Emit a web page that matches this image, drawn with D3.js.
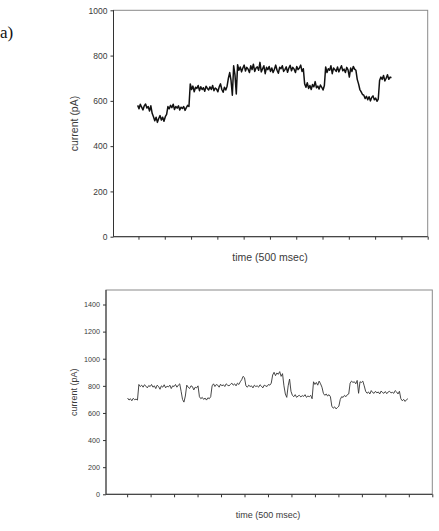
<!DOCTYPE html>
<html>
<head>
<meta charset="utf-8">
<script src="https://cdn.jsdelivr.net/npm/d3@7"></script>
<style>
  body { margin: 0; background: #fff; }
  svg { display: block; }
  .tick text { font-family: "Liberation Sans", Arial, sans-serif; fill: #3a3a3a; }
  .axis-title { font-family: "Liberation Sans", Arial, sans-serif; fill: #3a3a3a; }
</style>
</head>
<body>
<svg id="chart" width="439" height="531"></svg>
<script>
// top trace, one sample every 0.05 tick units from t = 0.97
var topCurrent = [
  580, 565, 585, 572, 560, 578, 586, 568, 575, 555, 578,
  545, 530, 512, 528, 505, 522, 535, 515, 528, 510, 530, 540,
  575, 565, 580, 570, 585, 562, 575, 568, 578, 560, 572, 566, 575, 558, 570, 580, 575,
  675, 650, 665, 640, 660, 655, 668, 645, 662, 650, 658, 642, 665, 655, 648, 662, 650, 668, 645, 657,
  652, 640, 662, 675, 650, 638, 660, 648, 665,
  700, 725, 690, 625, 755, 715, 630,
  760, 735, 750, 728, 745, 758, 732, 748, 740, 725, 755, 738, 762, 730, 745, 750, 735, 770, 728, 742,
  755, 720, 748, 738, 752, 730, 745, 725, 740, 758, 735, 722, 748, 742, 755, 730, 738, 750, 726, 745,
  757, 733, 748, 740, 725, 752, 738, 745, 758, 730, 742,
  675, 660, 680, 655, 668, 650, 672, 662, 685, 658, 665, 652, 670, 660, 648, 668,
  750, 725, 742, 735, 755, 720, 745, 738, 730, 750, 728, 742, 755, 733, 740, 725, 748, 737, 705, 745,
  730, 752, 740, 735,
  695, 675, 650, 640, 628,
  625, 610, 620, 605, 618, 600, 615, 622, 605, 612, 598, 608,
  690, 705, 695, 712, 688, 700, 715, 695, 705, 702
];
var topStart = 0.97, topStep = 0.05;

// bottom trace, one sample every 0.06 tick units from t = 1.02
var bottomCurrent = [
  710, 695, 705, 690, 708, 698, 702, 695,
  810, 795, 805, 790, 808, 798, 785, 802, 795, 810, 790, 800, 780, 805, 795, 775, 800, 790, 808, 785,
  798, 792, 805, 780, 800, 795, 810, 790, 805, 815,
  760, 700, 680, 725,
  805, 790, 780, 800, 795, 770, 790, 785, 800,
  720, 705, 715, 700, 710, 695, 712, 705, 720,
  800, 815, 795, 810, 805, 790, 812, 800, 808, 795, 815, 805, 800, 810, 820,
  805, 815, 800, 820, 810, 830, 845, 870, 860,
  800, 790, 805, 795, 800, 785, 805, 795, 800, 790, 808, 798, 785, 805, 800, 795, 810, 805, 820,
  880, 900, 875, 895, 885, 905, 870, 890,
  800, 740, 715,
  800, 850, 760,
  730, 720, 735, 715, 725, 730, 718, 728, 722, 735, 715, 725, 720, 730, 705,
  830, 810, 825, 805, 835, 815, 790,
  745, 730, 740, 725, 735, 720,
  650, 635, 645, 630, 640, 650,
  700, 720, 715, 730, 720, 735, 740,
  820, 835, 825, 830, 815, 840, 745, 830, 825, 835, 800,
  760, 745, 755, 740, 765, 750, 745, 760, 748, 755, 740, 762, 750, 745, 758, 742, 755, 760, 748, 752,
  745, 765, 755, 740, 760,
  705, 690, 700, 685, 698, 705
];
var bottomStart = 1.02, bottomStep = 0.06;

var topYTicks = [0, 200, 400, 600, 800, 1000];
var bottomYTicks = [0, 200, 400, 600, 800, 1000, 1200, 1400];
var topXTicks = [1, 2, 3, 4, 5, 6, 7, 8, 9, 10, 11, 12];
var bottomXTicks = [1, 2, 3, 4, 5, 6, 7, 8, 9, 10, 11, 12, 13, 14];
var yTitle = "current (pA)";
var xTitle = "time (500 msec)";

var svg = d3.select("#chart");

svg.append("text")
  .attr("x", 0)
  .attr("y", 38)
  .attr("font-family", "Liberation Serif, serif")
  .attr("font-size", 17)
  .attr("fill", "#111")
  .text("a)");

function drawPanel(opt) {
  var x = d3.scaleLinear().domain(opt.xDomain).range([opt.left, opt.right]);
  var y = d3.scaleLinear().domain(opt.yDomain).range([opt.bottom, opt.top]);

  var g = svg.append("g");

  // frame
  g.append("rect")
    .attr("x", opt.left)
    .attr("y", opt.top)
    .attr("width", opt.right - opt.left)
    .attr("height", opt.bottom - opt.top)
    .attr("fill", "none")
    .attr("stroke", "#8a8a8a")
    .attr("stroke-width", 1);

  var xAxis = g.append("g")
    .attr("transform", "translate(0," + opt.bottom + ")")
    .call(d3.axisBottom(x).tickValues(opt.xTicks).tickSize(3).tickFormat(""));
  xAxis.selectAll("line").attr("stroke", "#333");
  xAxis.select(".domain").attr("stroke", "#333").attr("d", "M" + opt.left + ",0H" + opt.right);

  var yAxis = g.append("g")
    .attr("transform", "translate(" + opt.left + ",0)")
    .call(d3.axisLeft(y).tickValues(opt.yTicks).tickSize(3).tickPadding(3).tickFormat(d3.format("d")));
  yAxis.selectAll("line").attr("stroke", "#333");
  yAxis.select(".domain").attr("stroke", "#333").attr("d", "M0," + opt.bottom + "V" + opt.top);
  yAxis.selectAll("text").attr("font-size", opt.tickFont).attr("fill", "#3a3a3a");

  var line = d3.line()
    .x(function (d, i) { return x(opt.start + i * opt.step); })
    .y(function (d) { return y(d); })
    .curve(d3.curveLinear);

  g.append("path")
    .datum(opt.values)
    .attr("fill", "none")
    .attr("stroke", opt.color)
    .attr("stroke-width", opt.width)
    .attr("stroke-linejoin", "round")
    .attr("d", line);

  g.append("text")
    .attr("class", "axis-title")
    .attr("text-anchor", "middle")
    .attr("font-size", opt.titleFont)
    .attr("transform", "translate(" + opt.yTitleX + "," + ((opt.top + opt.bottom) / 2) + ") rotate(-90)")
    .text(yTitle);

  g.append("text")
    .attr("class", "axis-title")
    .attr("text-anchor", "middle")
    .attr("font-size", opt.titleFont)
    .attr("x", opt.xTitleX)
    .attr("y", opt.xTitleY)
    .text(xTitle);
}

drawPanel({
  left: 113.5, right: 427.7, top: 10.3, bottom: 236.7,
  xDomain: [0.05, 12], yDomain: [0, 1000],
  xTicks: topXTicks, yTicks: topYTicks,
  values: topCurrent, start: topStart, step: topStep,
  color: "#111", width: 1.5,
  tickFont: 8.5, titleFont: 10.5,
  yTitleX: 78, xTitleX: 270, xTitleY: 261
});

drawPanel({
  left: 106, right: 432.3, top: 290, bottom: 494.3,
  xDomain: [0.1, 14], yDomain: [0, 1507],
  xTicks: bottomXTicks, yTicks: bottomYTicks,
  values: bottomCurrent, start: bottomStart, step: bottomStep,
  color: "#333", width: 0.9,
  tickFont: 7.2, titleFont: 9,
  yTitleX: 77, xTitleX: 268, xTitleY: 518
});
</script>
</body>
</html>
